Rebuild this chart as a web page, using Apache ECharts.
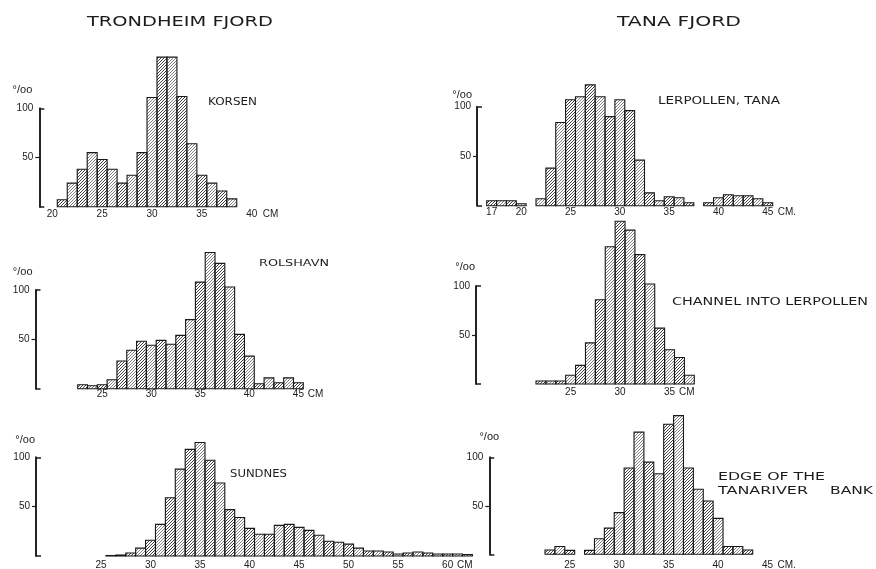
<!DOCTYPE html>
<html>
<head>
<meta charset="utf-8">
<script src="https://cdn.jsdelivr.net/npm/echarts@6/dist/echarts.min.js"></script>
<style>
  html, body { margin: 0; padding: 0; background: #ffffff; }
  #chart { width: 876px; height: 569px; }
</style>
</head>
<body>
<div id="chart"></div>
<script>
// Length distributions of fish catches, per mille in each 1-cm length class.

// Trondheim fjord
const korsenCm = [21, 22, 23, 24, 25, 26, 27, 28, 29, 30, 31, 32, 33, 34, 35, 36, 37, 38];
const korsenPermille = [7, 24, 38, 55, 48, 38, 24, 32, 55, 111, 152, 152, 112, 64, 32, 24, 16, 8];
const korsenTicks = [20, 25, 30, 35, 40];

const rolshavnCm = [23, 24, 25, 26, 27, 28, 29, 30, 31, 32, 33, 34, 35, 36, 37, 38, 39, 40, 41, 42, 43, 44, 45];
const rolshavnPermille = [4, 3, 4, 9, 28, 39, 48, 44, 49, 45, 54, 70, 108, 138, 127, 103, 55, 33, 5, 11, 6, 11, 6];
const rolshavnTicks = [25, 30, 35, 40, 45];

const sundnesCm = [26, 27, 28, 29, 30, 31, 32, 33, 34, 35, 36, 37, 38, 39, 40, 41, 42, 43, 44, 45,
  46, 47, 48, 49, 50, 51, 52, 53, 54, 55, 56, 57, 58, 59, 60, 61, 62];
const sundnesPermille = [0.5, 1, 3, 8, 16, 32, 59, 88, 108, 115, 97, 74, 47, 39, 28, 22, 22, 31, 32, 29,
  26, 21, 15, 14, 12, 8, 5, 5, 4, 2, 3, 4, 3, 2, 2, 2, 1.5];
const sundnesTicks = [25, 30, 35, 40, 45, 50, 55, 60];

// Tana fjord
const lerpollenCm = [17, 18, 19, 20, 21, 22, 23, 24, 25, 26, 27, 28, 29, 30, 31, 32, 33, 34, 35, 36,
  37, 38, 39, 40, 41, 42, 43, 44, 45];
const lerpollenPermille = [5, 5, 5, 2, 0, 7, 38, 84, 107, 110, 122, 110, 90, 107, 96, 46, 13, 5, 9, 8,
  3, 0, 3, 8, 11, 10, 10, 7, 3];
const lerpollenTicks = [17, 20, 25, 30, 35, 40, 45];

const channelCm = [22, 23, 24, 25, 26, 27, 28, 29, 30, 31, 32, 33, 34, 35, 36, 37];
const channelPermille = [3, 3, 3, 9, 19, 42, 86, 140, 166, 157, 132, 102, 57, 35, 27, 9];
const channelTicks = [25, 30, 35];

const edgeCm = [23, 24, 25, 26, 27, 28, 29, 30, 31, 32, 33, 34, 35, 36, 37, 38, 39, 40, 41, 42, 43];
const edgePermille = [4.5, 8, 4, 0, 4, 16, 27, 43, 89, 126, 95, 83, 134, 143, 89, 67, 55, 37, 8, 8, 4.5];
const edgeTicks = [25, 30, 35, 40, 45];

const permilleTicks = [50, 100];

// ---- drawing ----
const FONT = 'DejaVu Sans';
const NUM_FONT = 'Liberation Sans';
const INK = '#1c1c1c';

function hatchTile(color, step, width) {
  const c = document.createElement('canvas');
  c.width = step; c.height = step;
  const g = c.getContext('2d');
  g.strokeStyle = color;
  g.lineWidth = width;
  g.beginPath();
  g.moveTo(0, step); g.lineTo(step, 0);
  g.moveTo(-1, 1); g.lineTo(1, -1);
  g.moveTo(step - 1, step + 1); g.lineTo(step + 1, step - 1);
  g.stroke();
  return c;
}
const hatchDark = { image: hatchTile('#2c2c2c', 3, 0.9), repeat: 'repeat' };
const hatchLight = { image: hatchTile('#6a6a6a', 3, 0.85), repeat: 'repeat' };

// Panel layout: pixel span of the x range, baseline/100-line, axis position.
const panels = [
  { cm: korsenCm, val: korsenPermille, ticks: korsenTicks, unit: 'CM',
    xMin: 20, xMax: 40, pxMin: 52.3, pxMax: 251.7, y0: 206.7, y100: 108.3, axisX: 39.3,
    labelMargin: 3, unitGap: 11, nameGap: 18, nameAlign: 'right', namePad: 7 },
  { cm: lerpollenCm, val: lerpollenPermille, ticks: lerpollenTicks, unit: 'CM.',
    xMin: 16.5, xMax: 45.5, pxMin: 486.7, pxMax: 772.7, y0: 205.7, y100: 106.7, axisX: 477,
    labelMargin: 2, unitGap: 5, nameGap: 12, nameAlign: 'right', namePad: 5 },
  { cm: rolshavnCm, val: rolshavnPermille, ticks: rolshavnTicks, unit: 'CM',
    xMin: 22.5, xMax: 45.5, pxMin: 77.7, pxMax: 303.3, y0: 388.7, y100: 290, axisX: 35.5,
    labelMargin: 1, unitGap: 4, nameGap: 18, nameAlign: 'right', namePad: 3 },
  { cm: channelCm, val: channelPermille, ticks: channelTicks, unit: 'CM',
    xMin: 21.5, xMax: 35.5, pxMin: 536, pxMax: 674.5, y0: 384, y100: 286, axisX: 476,
    labelMargin: 3, unitGap: 3, nameGap: 19, nameAlign: 'right', namePad: 1 },
  { cm: sundnesCm, val: sundnesPermille, ticks: sundnesTicks, unit: 'CM',
    xMin: 25, xMax: 60.5, pxMin: 101, pxMax: 452.6, y0: 556, y100: 457.3, axisX: 36,
    labelMargin: 4, unitGap: 1, nameGap: 17, nameAlign: 'right', namePad: 1 },
  { cm: edgeCm, val: edgePermille, ticks: edgeTicks, unit: 'CM.',
    xMin: 22.5, xMax: 45.5, pxMin: 545, pxMax: 772.5, y0: 554.3, y100: 457.3, axisX: 489.3,
    labelMargin: 6, unitGap: 5, nameGap: 20, nameAlign: 'center', namePad: 0 }
];

const grids = [], xAxes = [], yAxes = [], series = [];

panels.forEach(function (p, i) {
  grids.push({
    left: p.pxMin, top: p.y100, width: p.pxMax - p.pxMin, height: p.y0 - p.y100,
    outerBoundsMode: 'none', containLabel: false
  });
  xAxes.push({
    gridIndex: i, type: 'value', min: p.xMin, max: p.xMax, position: 'bottom',
    axisLine: { show: false, onZero: false },
    axisTick: { show: false },
    splitLine: { show: false },
    axisLabel: { customValues: p.ticks, margin: p.labelMargin, fontSize: 10,
      fontFamily: NUM_FONT, color: INK },
    name: p.unit, nameLocation: 'end', nameGap: p.unitGap,
    nameTextStyle: { align: 'left', verticalAlign: 'top', padding: [p.labelMargin, 0, 0, 0],
      fontSize: 10, fontFamily: NUM_FONT, color: INK }
  });
  const offset = p.pxMin - p.axisX;
  // scale bar with end caps at 0 and 100
  yAxes.push({
    gridIndex: i, type: 'value', min: 0, max: 100, position: 'left', offset: offset,
    axisLine: { show: true, onZero: false, lineStyle: { color: INK, width: 1.6 } },
    axisTick: { show: true, inside: true, length: 5, customValues: [0, 100],
      lineStyle: { color: INK, width: 1.5 } },
    axisLabel: { show: false },
    splitLine: { show: false }
  });
  // labels, mid tick and unit of the scale bar
  yAxes.push({
    gridIndex: i, type: 'value', min: 0, max: 100, position: 'left', offset: offset,
    axisLine: { show: true, onZero: false, lineStyle: { color: INK, width: 1.6 } },
    axisTick: { show: true, inside: false, length: 4, customValues: [50],
      lineStyle: { color: INK, width: 1.2 } },
    axisLabel: { customValues: permilleTicks, margin: 6, fontSize: 10,
      fontFamily: NUM_FONT, color: INK },
    splitLine: { show: false },
    name: '°/oo', nameLocation: 'end', nameGap: p.nameGap,
    nameTextStyle: { align: p.nameAlign, verticalAlign: 'middle',
      padding: [0, p.namePad, 0, 0], fontSize: 11, fontFamily: NUM_FONT, color: INK }
  });
  series.push({
    type: 'custom', xAxisIndex: i, yAxisIndex: 2 * i, clip: false, silent: true,
    data: p.cm.map(function (c, k) { return [c, p.val[k]]; }),
    encode: { x: 0, y: 1 },
    renderItem: function (params, api) {
      const x = api.value(0), y = api.value(1);
      if (!(y > 0)) return null;
      const a = api.coord([x - 0.5, 0]);
      const b = api.coord([x + 0.5, y]);
      return {
        type: 'rect',
        shape: { x: a[0], y: b[1], width: b[0] - a[0], height: a[1] - b[1] },
        style: {
          fill: params.dataIndex % 2 === 0 ? hatchDark : hatchLight,
          stroke: '#181818', lineWidth: 1.1
        }
      };
    }
  });
});

// Hand-lettered captions, stretched to their lettering width.
const measureCtx = document.createElement('canvas').getContext('2d');
function caption(text, left, midY, width, size) {
  measureCtx.font = size + 'px "' + FONT + '"';
  const w = measureCtx.measureText(text).width;
  return {
    type: 'text', x: left, y: midY, scaleX: width / w, silent: true,
    style: { text: text, fontSize: size, fontFamily: FONT, fill: INK,
      align: 'left', verticalAlign: 'middle' }
  };
}

const captions = [
  caption('TRONDHEIM FJORD', 87, 22, 186, 14),
  caption('TANA FJORD', 617, 22, 124, 14),
  caption('KORSEN', 208, 102, 49, 10),
  caption('LERPOLLEN, TANA', 658, 101, 122, 10),
  caption('ROLSHAVN', 259, 264, 70, 9),
  caption('CHANNEL INTO LERPOLLEN', 672, 302, 196, 11),
  caption('SUNDNES', 230, 474, 57, 10),
  caption('EDGE OF THE', 718, 477, 107, 10),
  caption('TANARIVER', 718, 491.5, 90, 10),
  caption('BANK', 830, 491.5, 43, 10)
];

const chart = echarts.init(document.getElementById('chart'), null, { renderer: 'canvas' });
chart.setOption({
  animation: false,
  backgroundColor: '#ffffff',
  textStyle: { fontFamily: FONT },
  grid: grids,
  xAxis: xAxes,
  yAxis: yAxes,
  series: series,
  graphic: captions
});
</script>
</body>
</html>
